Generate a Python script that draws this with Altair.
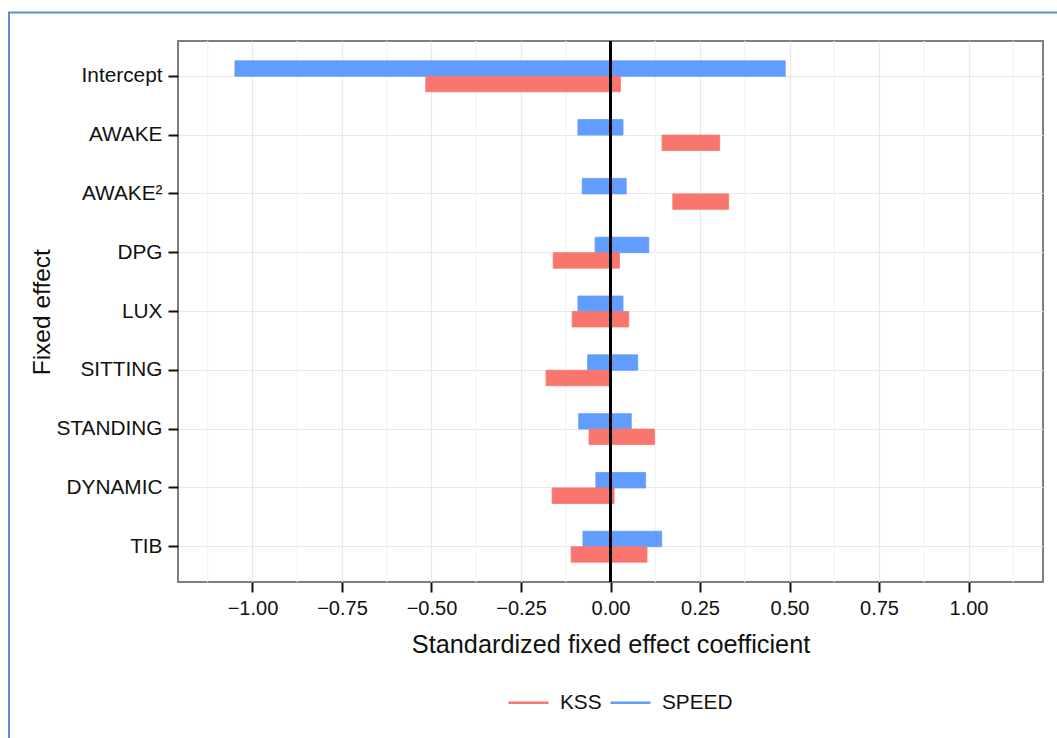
import altair as alt
import pandas as pd

effects = ["Intercept", "AWAKE", "AWAKE²", "DPG", "LUX", "SITTING", "STANDING", "DYNAMIC", "TIB"]
speed_lo = [-1.049, -0.091, -0.079, -0.043, -0.091, -0.064, -0.089, -0.041, -0.077]
speed_hi = [0.488, 0.035, 0.044, 0.107, 0.035, 0.076, 0.058, 0.098, 0.143]
kss_lo = [-0.516, 0.144, 0.174, -0.160, -0.107, -0.180, -0.060, -0.163, -0.110]
kss_hi = [0.028, 0.305, 0.330, 0.025, 0.051, -0.004, 0.123, 0.010, 0.102]
series = ["KSS", "SPEED"]
colors = ["#F8766D", "#619CFF"]
major_ticks = [-1.0, -0.75, -0.5, -0.25, 0.0, 0.25, 0.5, 0.75, 1.0]
minor_ticks = [-1.125, -0.875, -0.625, -0.375, -0.125, 0.125, 0.375, 0.625, 0.875, 1.125]

rows = []
for i, e in enumerate(effects):
    rows.append({"effect": e, "series": "SPEED", "lo": speed_lo[i], "hi": speed_hi[i]})
    rows.append({"effect": e, "series": "KSS", "lo": kss_lo[i], "hi": kss_hi[i]})
df = pd.DataFrame(rows)

FONT = "Liberation Sans"
xscale = alt.Scale(domain=[-1.208, 1.208], nice=False, zero=False)
cscale = alt.Scale(domain=series, range=colors)

legend = alt.Legend(
    title=None,
    orient="none",
    direction="horizontal",
    legendX=329,
    legendY=640,
    symbolType="stroke",
    symbolSize=1600,
    symbolStrokeWidth=2.5,
    labelFont=FONT,
    labelFontSize=20.8,
    labelColor="#111111",
    labelOffset=10,
    columnPadding=3,
    padding=0,
)

minor = alt.Chart(pd.DataFrame({"m": minor_ticks})).mark_rule(
    color="#f3f3f3", strokeWidth=1.2
).encode(x=alt.X("m:Q", scale=xscale))

bars = alt.Chart(df).mark_bar(strokeWidth=0.8).encode(
    x=alt.X(
        "lo:Q",
        scale=xscale,
        axis=alt.Axis(
            values=major_ticks,
            format=".2f",
            title="Standardized fixed effect coefficient",
            titleFontSize=25.3,
            titleFontWeight="normal",
            titleColor="#111111",
            titleFont=FONT,
            titleY=70,
            titleBaseline="alphabetic",
            labelFont=FONT,
            labelFontSize=20,
            labelColor="#111111",
            labelPadding=22,
            labelBaseline="alphabetic",
            tickSize=10,
            tickWidth=2,
            tickColor="#111111",
            domain=False,
            grid=True,
            gridColor="#e8e8e8",
            gridWidth=1.2,
        ),
    ),
    x2="hi:Q",
    y=alt.Y(
        "effect:N",
        sort=effects,
        scale=alt.Scale(domain=effects, paddingInner=0, paddingOuter=0.1),
        axis=alt.Axis(
            title="Fixed effect",
            titleFontSize=24.5,
            titleFontWeight="normal",
            titleColor="#111111",
            titleFont=FONT,
            titleAngle=-90,
            titleX=-129,
            titleY=270.7,
            titleAlign="center",
            titleBaseline="alphabetic",
            labelFont=FONT,
            labelFontSize=20.8,
            labelColor="#111111",
            labelPadding=6,
            tickSize=10,
            tickWidth=2,
            tickColor="#111111",
            bandPosition=0.5,
            domain=False,
            grid=True,
            gridColor="#e8e8e8",
            gridWidth=1.2,
        ),
    ),
    yOffset=alt.YOffset(
        "series:N",
        sort=["SPEED", "KSS"],
        scale=alt.Scale(domain=["SPEED", "KSS"], paddingInner=0, paddingOuter=0.9),
    ),
    fill=alt.Fill("series:N", scale=cscale, legend=legend),
    stroke=alt.Stroke("series:N", scale=cscale, legend=legend),
)

zero = alt.Chart(pd.DataFrame({"z": [0.0]})).mark_rule(color="black", strokeWidth=3).encode(
    x=alt.X("z:Q", scale=xscale)
)

frame_left = alt.Chart(pd.DataFrame({"a": [0]})).mark_rule(color="#5b8dd0", strokeWidth=2).encode(
    x=alt.value(-169), y=alt.value(-28.5), y2=alt.value(800)
)
frame_top = alt.Chart(pd.DataFrame({"a": [0]})).mark_rule(color="#5b8dd0", strokeWidth=2).encode(
    x=alt.value(-170), x2=alt.value(1000), y=alt.value(-28.5)
)

chart = (
    alt.layer(minor, bars, zero, frame_left, frame_top)
    .properties(
        width=865,
        height=541,
        autosize=alt.AutoSizeParams(type="none"),
        padding={"left": 178, "top": 41, "right": 14, "bottom": 156},
        background="white",
    )
    .configure_view(stroke="#7f7f7f", strokeWidth=2)
)

chart.save("out.html", embed_options={"renderer": "svg", "actions": False})
